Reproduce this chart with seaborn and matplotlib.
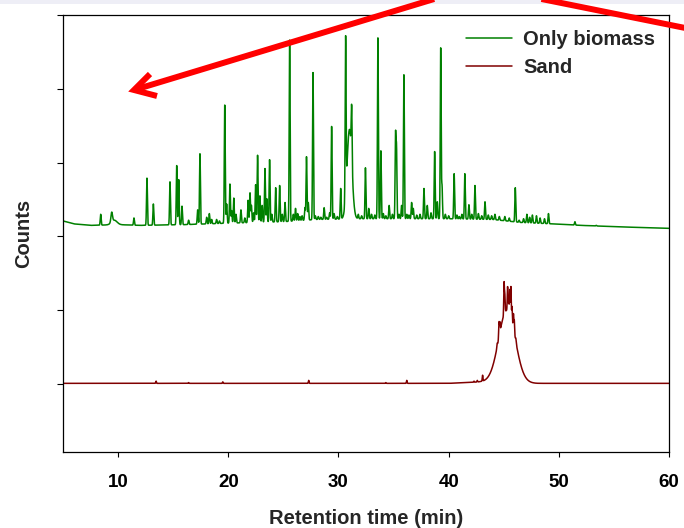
import numpy as np
import pandas as pd
import matplotlib
matplotlib.use("Agg")
import matplotlib.pyplot as plt
from matplotlib.lines import Line2D
from matplotlib.patches import Rectangle
from matplotlib.font_manager import FontProperties
import seaborn as sns

# Retention-time grid and axis ticks
t_start, t_end, t_step = 5.0, 60.0, 0.005
x_ticks = [10, 20, 30, 40, 50, 60]
y_ticks = [0, 1, 2, 3, 4, 5]

series_names = ["Only biomass", "Sand"]
series_colors = ["#008000", "#800000"]

# Only biomass: baseline anchors (min, counts)
biomass_base_t = [5, 6, 7.5, 10, 12, 16, 20, 25, 28, 32, 40, 44, 46.5, 49.5, 52, 55.5, 60]
biomass_base_y = [2.21, 2.17, 2.15, 2.16, 2.15, 2.16, 2.18, 2.20, 2.23, 2.24, 2.24, 2.23,
                  2.19, 2.17, 2.15, 2.13, 2.11]

# Only biomass: peak table (retention time, apex level, width)
biomass_peak_t = [
    8.42, 9.42, 9.65, 11.44, 12.62, 13.2, 14.71, 15.32, 15.5, 15.8, 16.4, 17.22, 17.43,
    18.04, 18.28, 18.49, 18.94, 19.2, 19.68, 19.85, 20.15, 20.3, 20.5, 20.7, 21.15, 21.5,
    21.8, 21.97, 22.1, 22.3, 22.48, 22.66, 22.87, 23.08, 23.33, 23.5, 23.75, 23.95, 24.3,
    24.66, 24.9, 25.15, 25.57, 25.9, 26.1, 26.3, 26.5, 26.7, 26.96, 27.1, 27.26, 27.69,
    27.9, 28.17, 28.4, 28.7, 28.93, 29.2, 29.38, 29.6, 29.9, 30.2, 30.65, 31.0, 31.2,
    31.8, 32.1, 32.45, 32.75, 33.0, 33.3, 33.58, 33.85, 34.07, 34.3, 34.6, 34.9, 35.18,
    35.27, 35.5, 35.73, 35.94, 36.2, 36.4, 36.64, 36.79, 37.1, 37.4, 37.76, 38.06, 38.4,
    38.73, 38.97, 39.28, 39.4, 39.7, 40.0, 40.5, 40.75, 40.96, 41.2, 41.47, 41.84, 42.1,
    42.39, 42.7, 43.0, 43.3, 43.6, 43.9, 44.2, 44.6, 45.1, 45.5, 46.05, 46.4, 46.8, 47.1,
    47.35, 47.6, 47.97, 48.3, 48.7, 49.06, 51.46, 53.4,
]
biomass_peak_apex = [
    2.30, 2.33, 2.22, 2.25, 2.79, 2.44, 2.74, 2.96, 2.77, 2.41, 2.22, 2.36, 3.12,
    2.26, 2.31, 2.23, 2.23, 2.21, 3.78, 2.44, 2.71, 2.35, 2.52, 2.30, 2.36, 2.25,
    2.49, 2.59, 2.42, 2.32, 2.70, 3.10, 2.55, 2.42, 2.92, 2.51, 3.04, 2.30, 2.66,
    2.69, 2.30, 2.46, 4.66, 2.30, 2.38, 2.31, 2.27, 2.28, 2.39, 3.08, 2.46, 4.22,
    2.28, 2.27, 2.26, 2.39, 2.26, 2.32, 3.49, 2.31, 2.27, 2.65, 4.72, 3.45, 3.78,
    2.30, 2.28, 2.93, 2.38, 2.30, 2.29, 4.69, 3.16, 2.31, 2.28, 2.42, 2.30, 3.35,
    3.16, 2.30, 2.42, 4.19, 2.30, 2.29, 2.46, 2.38, 2.29, 2.30, 2.65, 2.42, 2.32,
    3.15, 2.47, 4.55, 2.68, 2.30, 2.28, 2.85, 2.29, 2.27, 2.30, 2.85, 2.43, 2.30,
    2.69, 2.31, 2.28, 2.47, 2.29, 2.28, 2.30, 2.27, 2.27, 2.25, 2.66, 2.22, 2.24, 2.30,
    2.26, 2.29, 2.28, 2.25, 2.24, 2.31, 2.20, 2.15,
]
biomass_peak_width = [0.04] * len(biomass_peak_t)
biomass_peak_width[1] = 0.07     # 9.42 min
biomass_peak_width[2] = 0.25     # tail after 9.42 min
biomass_peak_width[63] = 0.22    # broad hump near 31 min

# Sand: baseline anchors and peak table
sand_base_t = [5, 40, 41.5, 43.0, 48.0, 60]
sand_base_y = [0.01, 0.01, 0.02, 0.03, 0.01, 0.01]
sand_peak_t = [13.45, 16.4, 19.5, 27.3, 34.3, 36.2, 42.3, 42.6, 43.08, 45.3,
               44.4, 44.57, 44.65, 44.75, 45.03, 45.1, 45.35, 45.45, 45.55, 45.65,
               45.75, 45.88, 45.96, 46.1, 46.25]
sand_peak_apex = [0.04, 0.02, 0.03, 0.05, 0.02, 0.05, 0.04, 0.05, 0.12, 1.0,
                  0.55, 0.84, 0.84, 0.78, 1.37, 1.20, 1.32, 1.15, 1.28, 1.32,
                  1.05, 0.95, 0.86, 0.62, 0.45]
sand_peak_width = [0.03] * len(sand_peak_t)
sand_peak_width[9] = 0.75        # envelope of the sand elution band


def build_trace(base_t, base_y, peak_t, peak_apex, peak_width):
    t = np.arange(t_start, t_end + t_step / 2, t_step)
    y = np.interp(t, base_t, base_y)
    pt = np.asarray(peak_t, float)
    pa = np.asarray(peak_apex, float)
    pw = np.asarray(peak_width, float)
    broad = pw > 0.1
    # broad components sit on the baseline
    for c, a, w in zip(pt[broad], pa[broad], pw[broad]):
        amp = a - np.interp(c, base_t, base_y)
        y = y + amp * np.exp(-0.5 * ((t - c) / w) ** 2)
    level = y.copy()
    # narrow peaks sit on baseline + broad components
    for c, a, w in zip(pt[~broad], pa[~broad], pw[~broad]):
        amp = max(a - np.interp(c, t, level), 0.0)
        y = y + amp * np.exp(-0.5 * ((t - c) / w) ** 2)
    return t, y


frames = []
for name, spec in zip(series_names, [
        (biomass_base_t, biomass_base_y, biomass_peak_t, biomass_peak_apex, biomass_peak_width),
        (sand_base_t, sand_base_y, sand_peak_t, sand_peak_apex, sand_peak_width)]):
    t, y = build_trace(*spec)
    frames.append(pd.DataFrame({"time": t, "counts": y, "series": name}))
df = pd.concat(frames, ignore_index=True)

sns.set_style("ticks")
plt.rcParams["font.family"] = ["Liberation Sans", "DejaVu Sans"]
plt.rcParams["font.weight"] = "bold"

W, H = 684, 528
fig = plt.figure(figsize=(W / 100, H / 100), dpi=100)
fig.patch.set_facecolor("white")
ax = fig.add_axes([63 / W, 1 - 452 / H, (669 - 63) / W, (452 - 15) / H])

sns.lineplot(data=df, x="time", y="counts", hue="series", hue_order=series_names,
             palette=series_colors, estimator=None, sort=False, linewidth=1.1, ax=ax)

ax.set_xlim(5, 60)
ax.set_ylim(-0.92, 5.0)
ax.set_xticks(x_ticks)
ax.set_xticklabels([str(v) for v in x_ticks], fontsize=13.5, fontweight="bold")
ax.set_yticks(y_ticks)
ax.set_yticklabels([])
ax.tick_params(axis="x", direction="out", length=3.6, width=0.8, pad=12.5, colors="black")
ax.tick_params(axis="y", direction="out", length=4.3, width=0.8, colors="black")
for s in ax.spines.values():
    s.set_visible(True)
    s.set_linewidth(0.9)
    s.set_color("black")

ax.set_xlabel("Retention time (min)", fontsize=14.5, fontweight="bold", labelpad=13)
ax.set_ylabel("Counts", fontsize=14.5, fontweight="bold", labelpad=14)

legend_font = FontProperties(family=["Liberation Sans", "DejaVu Sans"], weight="bold", size=14.5)
handles, labels = ax.get_legend_handles_labels()
ax.legend(handles, labels, loc="upper left", bbox_to_anchor=((466 - 63) / 606, 0.966),
          frameon=False, handlelength=2.3, handletextpad=0.55,
          labelspacing=0.45, borderpad=0, borderaxespad=0, prop=legend_font)

# light band along the top edge
fig.add_artist(Rectangle((0, 1 - 4 / H), 1, 4 / H, transform=fig.transFigure,
                         facecolor="#eeeef6", edgecolor="none", zorder=0))


def fp(px, py):
    return px / W, 1 - py / H


# red callout arrow
shaft = [(134, 90), (477, -14), (720, 35)]
head = [(150, 74), (134, 90), (157, 96)]
for pts in (shaft, head):
    xs, ys = zip(*[fp(*p) for p in pts])
    fig.add_artist(Line2D(xs, ys, transform=fig.transFigure, color="#ff0000",
                          linewidth=4.3, solid_joinstyle="miter", solid_capstyle="butt",
                          clip_on=False, zorder=10))

fig.savefig("out.png", dpi=100)
